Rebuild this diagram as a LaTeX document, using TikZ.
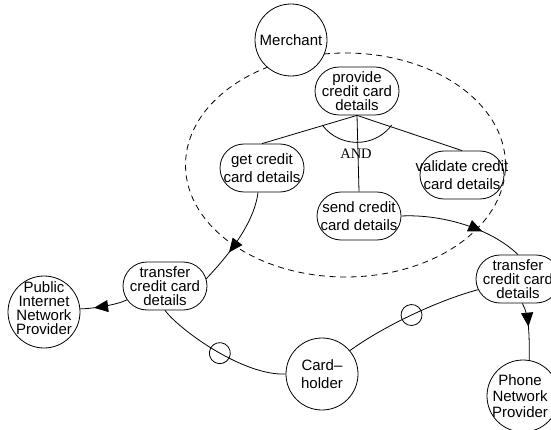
\documentclass[tikz,border=0pt]{standalone}
\usepackage{fontspec}
\setmainfont{Liberation Sans}
\newfontfamily\andfont{Liberation Serif}
\usetikzlibrary{shapes.misc,shapes.geometric,arrows.meta,decorations.markings}
\tikzset{
  txt/.style={font=\fontsize{15}{18}\selectfont, align=center, inner sep=0pt},
  tight/.style={font=\fontsize{15}{14}\selectfont},
  proc/.style={draw, rounded rectangle, minimum width=84pt, minimum height=48pt, inner sep=0pt},
  actor/.style={draw, circle, minimum size=72pt, inner sep=0pt},
  group/.style={draw, ellipse, dash pattern=on 6pt off 4.5pt, minimum width=320pt, minimum height=224pt, inner sep=0pt},
  flow/.style={postaction={decorate}, decoration={markings, mark=at position #1 with {\arrow{Triangle[length=14pt,width=12pt]}}}},
  ring/.style={postaction={decorate}, decoration={markings, mark=at position #1 with {\draw (0,0) circle[radius=10.5pt];}}},
}
\begin{document}
\begin{tikzpicture}[x=1pt,y=1pt,line width=0.8pt]
\useasboundingbox (0,0) rectangle (551,-430);
% grouping ellipse
\node[group] (grp) at (345.5,-165) {};
% actors
\node[actor, fill=white, label={[txt]center:Merchant}] (merch) at (291,-40) {};
\node[actor, label={[txt,tight,yshift=3.5pt]center:Public\\Internet\\Network\\Provider}] (pinp) at (44,-312) {};
\node[actor, label={[txt]center:Card--\\holder}] (card) at (322,-374) {};
\node[actor, label={[txt,font=\fontsize{15}{16}\selectfont,xshift=-3pt]center:Phone\\Network\\Provider}] (phone) at (523,-396) {};
% processes
\node[proc, label={[txt,tight]center:provide\\credit card\\details}] (prov) at (357,-91) {};
\node[proc, label={[txt]center:get credit\\card details}] (gccd) at (262,-168) {};
\node[proc, label={[txt]center:send credit\\card details}] (send) at (359,-216) {};
\node[proc, label={[txt]center:validate credit\\card details}] (val) at (462,-175) {};
\node[proc, label={[txt,tight]center:transfer\\credit card\\details}] (tl) at (165,-286) {};
\node[proc, label={[txt,tight]center:transfer\\credit card\\details}] (tr) at (518,-279) {};
% AND decomposition
\draw (prov.south) -- (gccd.north);
\draw (prov.south) -- (send.north);
\draw (prov.south) -- (val.north);
\path (prov.south) ++(0,16.5) coordinate (andc);
\draw (andc) ++(217:43.5) arc[start angle=217, end angle=323, radius=43.5pt];
\node[font=\andfont\fontsize{14.5}{16}\selectfont, inner sep=0pt] (and) at (356,-154) {AND};
% flows
\draw[flow=0.66] ([xshift=-4pt]gccd.south) .. controls +(-4,-33) and +(18,19) .. (tl.10);
\draw[flow=0.71] (tl.200) .. controls +(-10,-5) and +(12,0) .. (pinp.5);
\draw[ring=0.5] (tl.south) .. controls +(15,-20) and +(-42,-2) .. (card.west);
\draw[ring=0.5] (card.40) .. controls +(33,24) and +(-41,-11) .. (tr.195);
\draw[flow=0.66] (send.east) .. controls +(39,2) and +(-28,27) .. (tr.north);
\draw[flow=0.42] (tr.-80) .. controls +(7,-12) and +(0,25) .. (phone.80);
\end{tikzpicture}
\end{document}
